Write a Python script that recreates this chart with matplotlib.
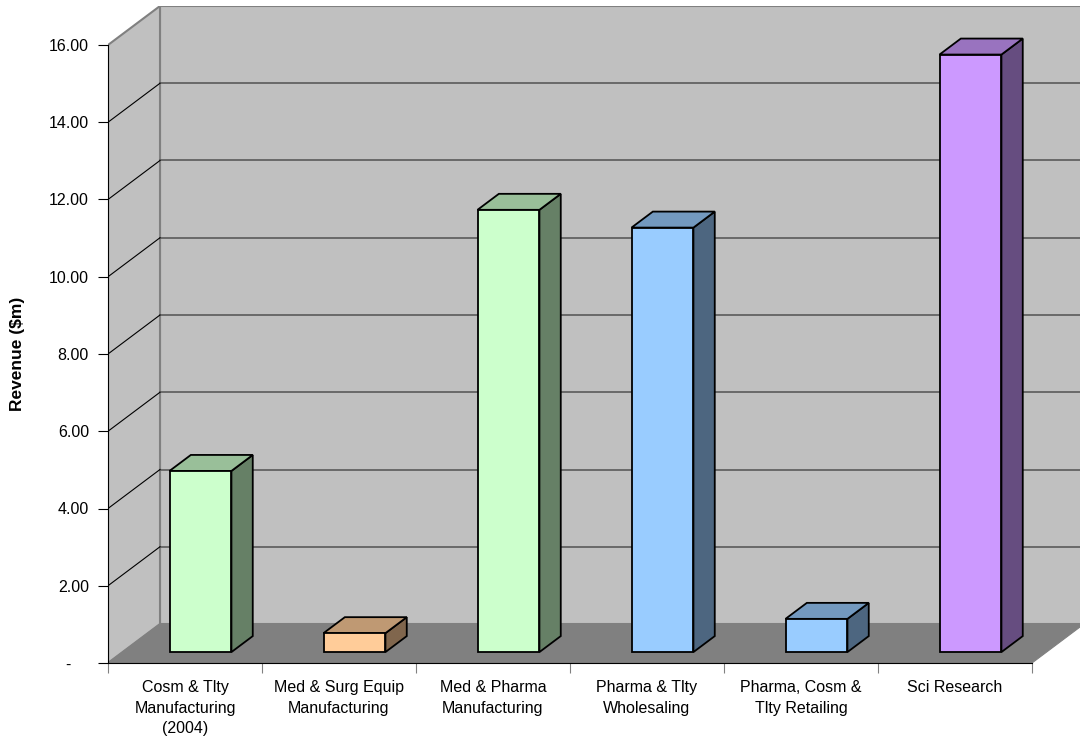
import matplotlib
matplotlib.use("Agg")
import matplotlib.pyplot as plt
from matplotlib.patches import Polygon
import numpy as np

plt.rcParams['font.family'] = ['Liberation Sans', 'DejaVu Sans']
plt.rcParams['font.size'] = 11.5

categories = [
    'Cosm & Tlty\nManufacturing\n(2004)',
    'Med & Surg Equip\nManufacturing',
    'Med & Pharma\nManufacturing',
    'Pharma & Tlty\nWholesaling',
    'Pharma, Cosm &\nTlty Retailing',
    'Sci Research',
]
revenue = [4.69, 0.49, 11.45, 10.99, 0.86, 15.47]

# front / top / side colours for each column
front_colors = ['#CCFFCC', '#FFCC99', '#CCFFCC', '#99CCFF', '#99CCFF', '#CC99FF']
top_colors = ['#99BF99', '#BF9973', '#99BF99', '#7399BF', '#7399BF', '#9973BF']
side_colors = ['#668066', '#80664D', '#668066', '#4D6680', '#4D6680', '#664D80']

y_ticks = np.arange(0, 17, 2)
y_max = 16

# oblique depth offset in data units
DX = 52 / 154
DY = 39 / 38.625

def proj(x, y, z):
    return (x + z * DX, y + z * DY)

fig = plt.figure(figsize=(10.8, 7.4), dpi=100)
ax = fig.add_axes([108 / 1080, 77 / 740, (1084 - 108) / 1080, (663 - 6) / 740])
n = len(categories)
ax.set_xlim(0, n + DX)
ax.set_ylim(0, y_max + DY)
ax.set_facecolor('none')

# walls and floor
back = [proj(0, 0, 1), proj(n, 0, 1), proj(n, y_max, 1), proj(0, y_max, 1)]
side = [proj(0, 0, 0), proj(0, 0, 1), proj(0, y_max, 1), proj(0, y_max, 0)]
floor = [proj(0, 0, 0), proj(n, 0, 0), proj(n, 0, 1), proj(0, 0, 1)]
ax.add_patch(Polygon(back, closed=True, facecolor='#C0C0C0', edgecolor='#808080', lw=1.5, zorder=1))
ax.add_patch(Polygon(side, closed=True, facecolor='#C0C0C0', edgecolor='#808080', lw=1.5, zorder=1))

for v in y_ticks[1:-1]:
    (bx0, by0), (bx1, by1) = proj(0, v, 1), proj(n, v, 1)
    ax.plot([bx0, bx1], [by0, by1], color='#5a5a5a', lw=1.2, zorder=2)
    (sx0, sy0) = proj(0, v, 0)
    ax.plot([sx0, bx0], [sy0, by0], color='black', lw=0.8, zorder=2)

ax.add_patch(Polygon(floor, closed=True, facecolor='#808080', edgecolor='#808080', lw=0.8, zorder=3))

# columns
z0, z1 = 0.28, 0.69
for i, v in enumerate(revenue):
    x0, x1 = i + 0.305, i + 0.707
    front = [proj(x0, 0, z0), proj(x1, 0, z0), proj(x1, v, z0), proj(x0, v, z0)]
    right = [proj(x1, 0, z0), proj(x1, 0, z1), proj(x1, v, z1), proj(x1, v, z0)]
    top = [proj(x0, v, z0), proj(x1, v, z0), proj(x1, v, z1), proj(x0, v, z1)]
    for pts, c in [(right, side_colors[i]), (top, top_colors[i]), (front, front_colors[i])]:
        ax.add_patch(Polygon(pts, closed=True, facecolor=c, edgecolor='black',
                             lw=1.3, joinstyle='miter', zorder=4))

# axes
for s in ['top', 'right']:
    ax.spines[s].set_visible(False)
ax.spines['left'].set_bounds(0, y_max)
ax.spines['bottom'].set_bounds(0, n)
ax.spines['left'].set_zorder(5)
ax.spines['bottom'].set_zorder(5)

ax.set_yticks(y_ticks)
ax.set_yticklabels(['-    '] + ['%.2f' % t for t in y_ticks[1:]])
ax.tick_params(axis='y', direction='out', length=7.2, width=0.8, pad=6.5, labelsize=11.5)

ax.set_xticks(np.arange(0, n + 1))
ax.set_xticklabels([])
ax.tick_params(axis='x', which='major', direction='out', length=7.2, width=0.8, color='#808080')
ax.set_xticks(np.arange(n) + 0.5, minor=True)
ax.set_xticklabels(categories, minor=True, fontsize=11.5, linespacing=1.45)
ax.tick_params(axis='x', which='minor', length=0, pad=12.5)

fig.text(18 / 1080, 1 - 354 / 740, 'Revenue ($m)', rotation=90, ha='center', va='center',
         fontsize=12.5, fontweight='bold')

fig.savefig('out.png', dpi=100)
